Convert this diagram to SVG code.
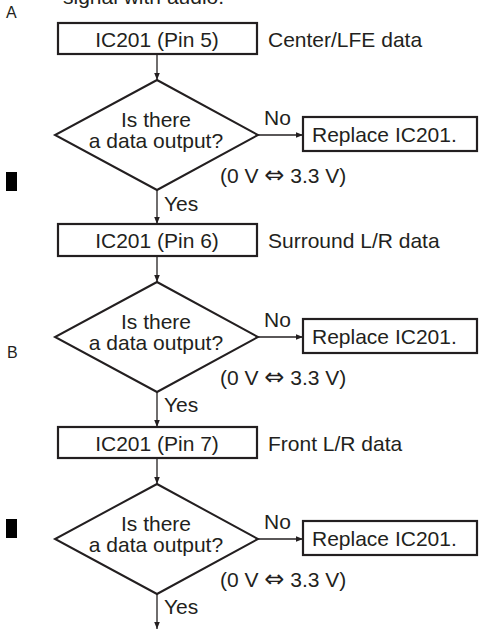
<svg xmlns="http://www.w3.org/2000/svg" width="482" height="630" viewBox="0 0 482 630">
<style>
text{font-family:"Liberation Sans",Arial,sans-serif;font-size:21px;fill:#231f20}
.lbl{font-size:16px}
.box{fill:#fff;stroke:#231f20;stroke-width:2.2}
.dia{fill:#fff;stroke:#231f20;stroke-width:2}
.ln{stroke:#231f20;stroke-width:1.3;fill:none;marker-end:url(#ah)}
.sym{font-family:"DejaVu Sans",sans-serif;font-size:24px}
</style>
<defs>
<marker id="ah" viewBox="0 0 10 8" refX="10" refY="4" markerWidth="7" markerHeight="5.6" markerUnits="userSpaceOnUse" orient="auto">
<path d="M0,0 L10,4 L0,8 Z" fill="#231f20"/>
</marker>
</defs>
<rect width="482" height="630" fill="#fff"/>
<text x="63" y="3.5">signal with audio.</text>
<text class="lbl" x="6" y="18">A</text>
<text class="lbl" x="7" y="358">B</text>
<rect x="6" y="172" width="11" height="19" fill="#000"/>
<rect x="6" y="519" width="11" height="19" fill="#000"/>

<g id="connectors">
<line class="ln" x1="157" y1="54" x2="157" y2="80"/>
<line class="ln" x1="157" y1="190" x2="157" y2="224"/>
<line class="ln" x1="157" y1="256" x2="157" y2="282"/>
<line class="ln" x1="157" y1="392" x2="157" y2="427"/>
<line class="ln" x1="157" y1="458" x2="157" y2="484"/>
<line class="ln" x1="157" y1="594" x2="157" y2="629"/>
<line class="ln" x1="258" y1="135" x2="303" y2="135"/>
<line class="ln" x1="258" y1="337" x2="303" y2="337"/>
<line class="ln" x1="258" y1="539" x2="303" y2="539"/>
<text x="264" y="125">No</text>
<text x="264" y="327">No</text>
<text x="264" y="529">No</text>
<text x="164" y="211">Yes</text>
<text x="164" y="412">Yes</text>
<text x="164" y="614">Yes</text>
</g>

<g id="box1">
<rect class="box" x="58" y="23" width="199" height="31"/>
<text x="157" y="46.7" text-anchor="middle">IC201 (Pin 5)</text>
<text x="268" y="46.7">Center/LFE data</text>
</g>
<g id="dec1">
<polygon class="dia" points="157,80 258,135 157,190 55,135"/>
<text x="156" y="126.5" text-anchor="middle">Is there</text>
<text x="156" y="148.3" text-anchor="middle">a data output?</text>
<text x="220" y="183">(0 V <tspan class="sym">⇔</tspan> 3.3 V)</text>
</g>
<g id="rep1">
<rect class="box" x="303" y="117" width="174" height="34"/>
<text x="312" y="142">Replace IC201.</text>
</g>

<g id="box2">
<rect class="box" x="58" y="224" width="199" height="32"/>
<text x="157" y="248.3" text-anchor="middle">IC201 (Pin 6)</text>
<text x="268" y="248.3">Surround L/R data</text>
</g>
<g id="dec2">
<polygon class="dia" points="157,282 258,337 157,392 55,337"/>
<text x="156" y="328.5" text-anchor="middle">Is there</text>
<text x="156" y="350.3" text-anchor="middle">a data output?</text>
<text x="220" y="385">(0 V <tspan class="sym">⇔</tspan> 3.3 V)</text>
</g>
<g id="rep2">
<rect class="box" x="303" y="319" width="174" height="34"/>
<text x="312" y="344">Replace IC201.</text>
</g>

<g id="box3">
<rect class="box" x="58" y="427" width="199" height="31"/>
<text x="157" y="450.7" text-anchor="middle">IC201 (Pin 7)</text>
<text x="268" y="450.7">Front L/R data</text>
</g>
<g id="dec3">
<polygon class="dia" points="157,484 258,539 157,594 55,539"/>
<text x="156" y="530.5" text-anchor="middle">Is there</text>
<text x="156" y="552.3" text-anchor="middle">a data output?</text>
<text x="220" y="587">(0 V <tspan class="sym">⇔</tspan> 3.3 V)</text>
</g>
<g id="rep3">
<rect class="box" x="303" y="521" width="174" height="34"/>
<text x="312" y="546">Replace IC201.</text>
</g>
</svg>
